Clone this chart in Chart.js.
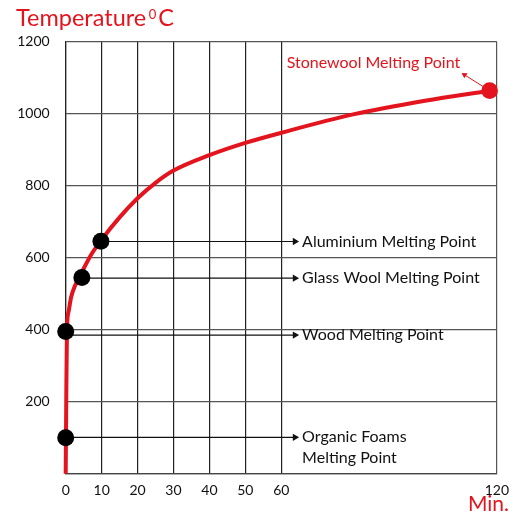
<!DOCTYPE html>
<html>
<head>
<meta charset="utf-8">
<script src="https://cdn.jsdelivr.net/npm/chart.js@4.4.1/dist/chart.umd.min.js"></script>
<style>
  html, body { margin: 0; padding: 0; background: #ffffff; }
  canvas { display: block; }
</style>
</head>
<body>
<canvas id="c" width="517" height="515"></canvas>
<script>
// ---- data ----
const curveTime = [0, 0.15, 0.35, 0.8, 1.5, 2.5, 4.5, 7, 10, 15, 20, 25, 30, 40, 50, 60, 80, 100, 118];
const curveTemp = [0, 200, 400, 450, 490, 520, 560, 607, 650, 712, 765, 808, 842, 885, 919, 947, 998, 1036, 1064];

const meltLabels   = [['Organic Foams', 'Melting Point'], ['Wood Melting Point'], ['Glass Wool Melting Point'], ['Aluminium Melting Point']];
const meltTime     = [0, 0, 4.5, 9.8];
const meltTemp     = [100, 395, 545, 646];
const meltLineTemp = [101, 385, 543, 645];
const meltArrowTime = 63.8;
const meltLabelTime = 65.8;

const stoneLabel = 'Stonewool Melting Point';
const stoneTime = 118;
const stoneTemp = 1064;
const stoneArrowTime = 111;
const stoneArrowTemp = 1108;
const stoneLabelTime = 61.5;
const stoneLabelTemp = 1140;

const xTickValues = [0, 10, 20, 30, 40, 50, 60, 120];
const yTickStep = 200;
const titleText = 'Temperature';
const titleSup = '0';
const titleUnit = 'C';
const xUnitText = 'Min.';

// ---- styles ----
const RED = '#e3141d';
const FONT = 'Lato';

const curveData = curveTime.map((t, i) => ({ x: t, y: curveTemp[i] }));
const meltPoints = meltTime.map((t, i) => ({ x: t, y: meltTemp[i] }));

const arrowSets = meltTime.map((t, i) => ({
  type: 'line',
  data: [{ x: t, y: meltLineTemp[i] }, { x: meltArrowTime, y: meltLineTemp[i] }],
  borderColor: '#111',
  backgroundColor: '#111',
  borderWidth: 1.2,
  pointRadius: [0, 4.2],
  pointStyle: 'triangle',
  pointRotation: 90,
  pointBorderWidth: 0,
  order: 3,
  clip: false
}));

const annot = {
  id: 'annot',
  afterDatasetsDraw(chart) {
    const { ctx, scales: { x, y } } = chart;
    ctx.save();
    ctx.textAlign = 'left';
    ctx.textBaseline = 'middle';
    ctx.font = '16px ' + FONT;
    ctx.fillStyle = '#111';
    meltLabels.forEach((lines, i) => {
      const px = x.getPixelForValue(meltLabelTime);
      const py = y.getPixelForValue(meltLineTemp[i]);
      lines.forEach((t, j) => ctx.fillText(t, px, py + j * 21));
    });
    ctx.fillStyle = RED;
    ctx.fillText(stoneLabel, x.getPixelForValue(stoneLabelTime), y.getPixelForValue(stoneLabelTemp));

    // title
    ctx.textBaseline = 'alphabetic';
    ctx.font = '23.5px ' + FONT;
    let tx = 16;
    ctx.fillText(titleText, tx, 25.7);
    tx += ctx.measureText(titleText).width + 2.5;
    ctx.font = '13px ' + FONT;
    ctx.fillText(titleSup, tx, 19);
    tx += ctx.measureText(titleSup).width + 2;
    ctx.font = '23.5px ' + FONT;
    ctx.fillText(titleUnit, tx, 25.7);

    // x unit
    ctx.textAlign = 'right';
    ctx.font = '21px ' + FONT;
    ctx.fillText(xUnitText, 509, 510.5);
    ctx.restore();
  }
};

new Chart(document.getElementById('c'), {
  type: 'scatter',
  data: {
    datasets: [
      {
        type: 'scatter',
        data: meltPoints,
        backgroundColor: '#000',
        borderWidth: 0,
        pointRadius: 8.5,
        order: 0,
        clip: false
      },
      {
        type: 'scatter',
        data: [{ x: stoneTime, y: stoneTemp }],
        backgroundColor: RED,
        borderWidth: 0,
        pointRadius: 8.3,
        order: 0,
        clip: false
      },
      {
        type: 'line',
        data: curveData,
        borderColor: RED,
        borderWidth: 4,
        pointRadius: 0,
        cubicInterpolationMode: 'monotone',
        fill: false,
        order: 1,
        clip: false
      },
      {
        type: 'line',
        data: [{ x: stoneTime, y: stoneTemp }, { x: stoneArrowTime, y: stoneArrowTemp }],
        borderColor: RED,
        backgroundColor: RED,
        borderWidth: 1,
        pointRadius: [0, 3.5],
        pointStyle: 'triangle',
        pointRotation: 303,
        pointBorderWidth: 0,
        order: 2,
        clip: false
      },
      ...arrowSets
    ]
  },
  options: {
    responsive: false,
    animation: false,
    events: [],
    layout: { padding: { left: 0, right: 18.7, top: 41.7, bottom: 0 } },
    plugins: { legend: { display: false }, tooltip: { enabled: false }, title: { display: false } },
    scales: {
      x: {
        type: 'linear',
        min: 0,
        max: 120,
        afterBuildTicks: (s) => { s.ticks = xTickValues.map(v => ({ value: v })); },
        afterFit: (s) => { s.height = 515 - 473.7; },
        grid: { color: (c) => (c.tick && c.tick.value === 120 ? '#555' : '#222'), lineWidth: 1.2, drawTicks: false },
        border: { color: '#444', width: 1.2 },
        ticks: { font: { family: FONT, size: 14 }, color: '#111', padding: 8, maxRotation: 0, autoSkip: false }
      },
      y: {
        type: 'linear',
        min: 0,
        max: 1200,
        afterFit: (s) => { s.width = 65.7; },
        grid: { color: '#555', lineWidth: 1.2, drawTicks: false },
        border: { color: '#222', width: 1.2 },
        ticks: { stepSize: yTickStep, font: { family: FONT, size: 14 }, color: '#111', padding: 16,
                 callback: (v) => (v === 0 ? '' : v) }
      }
    }
  },
  plugins: [annot]
});
</script>
</body>
</html>
